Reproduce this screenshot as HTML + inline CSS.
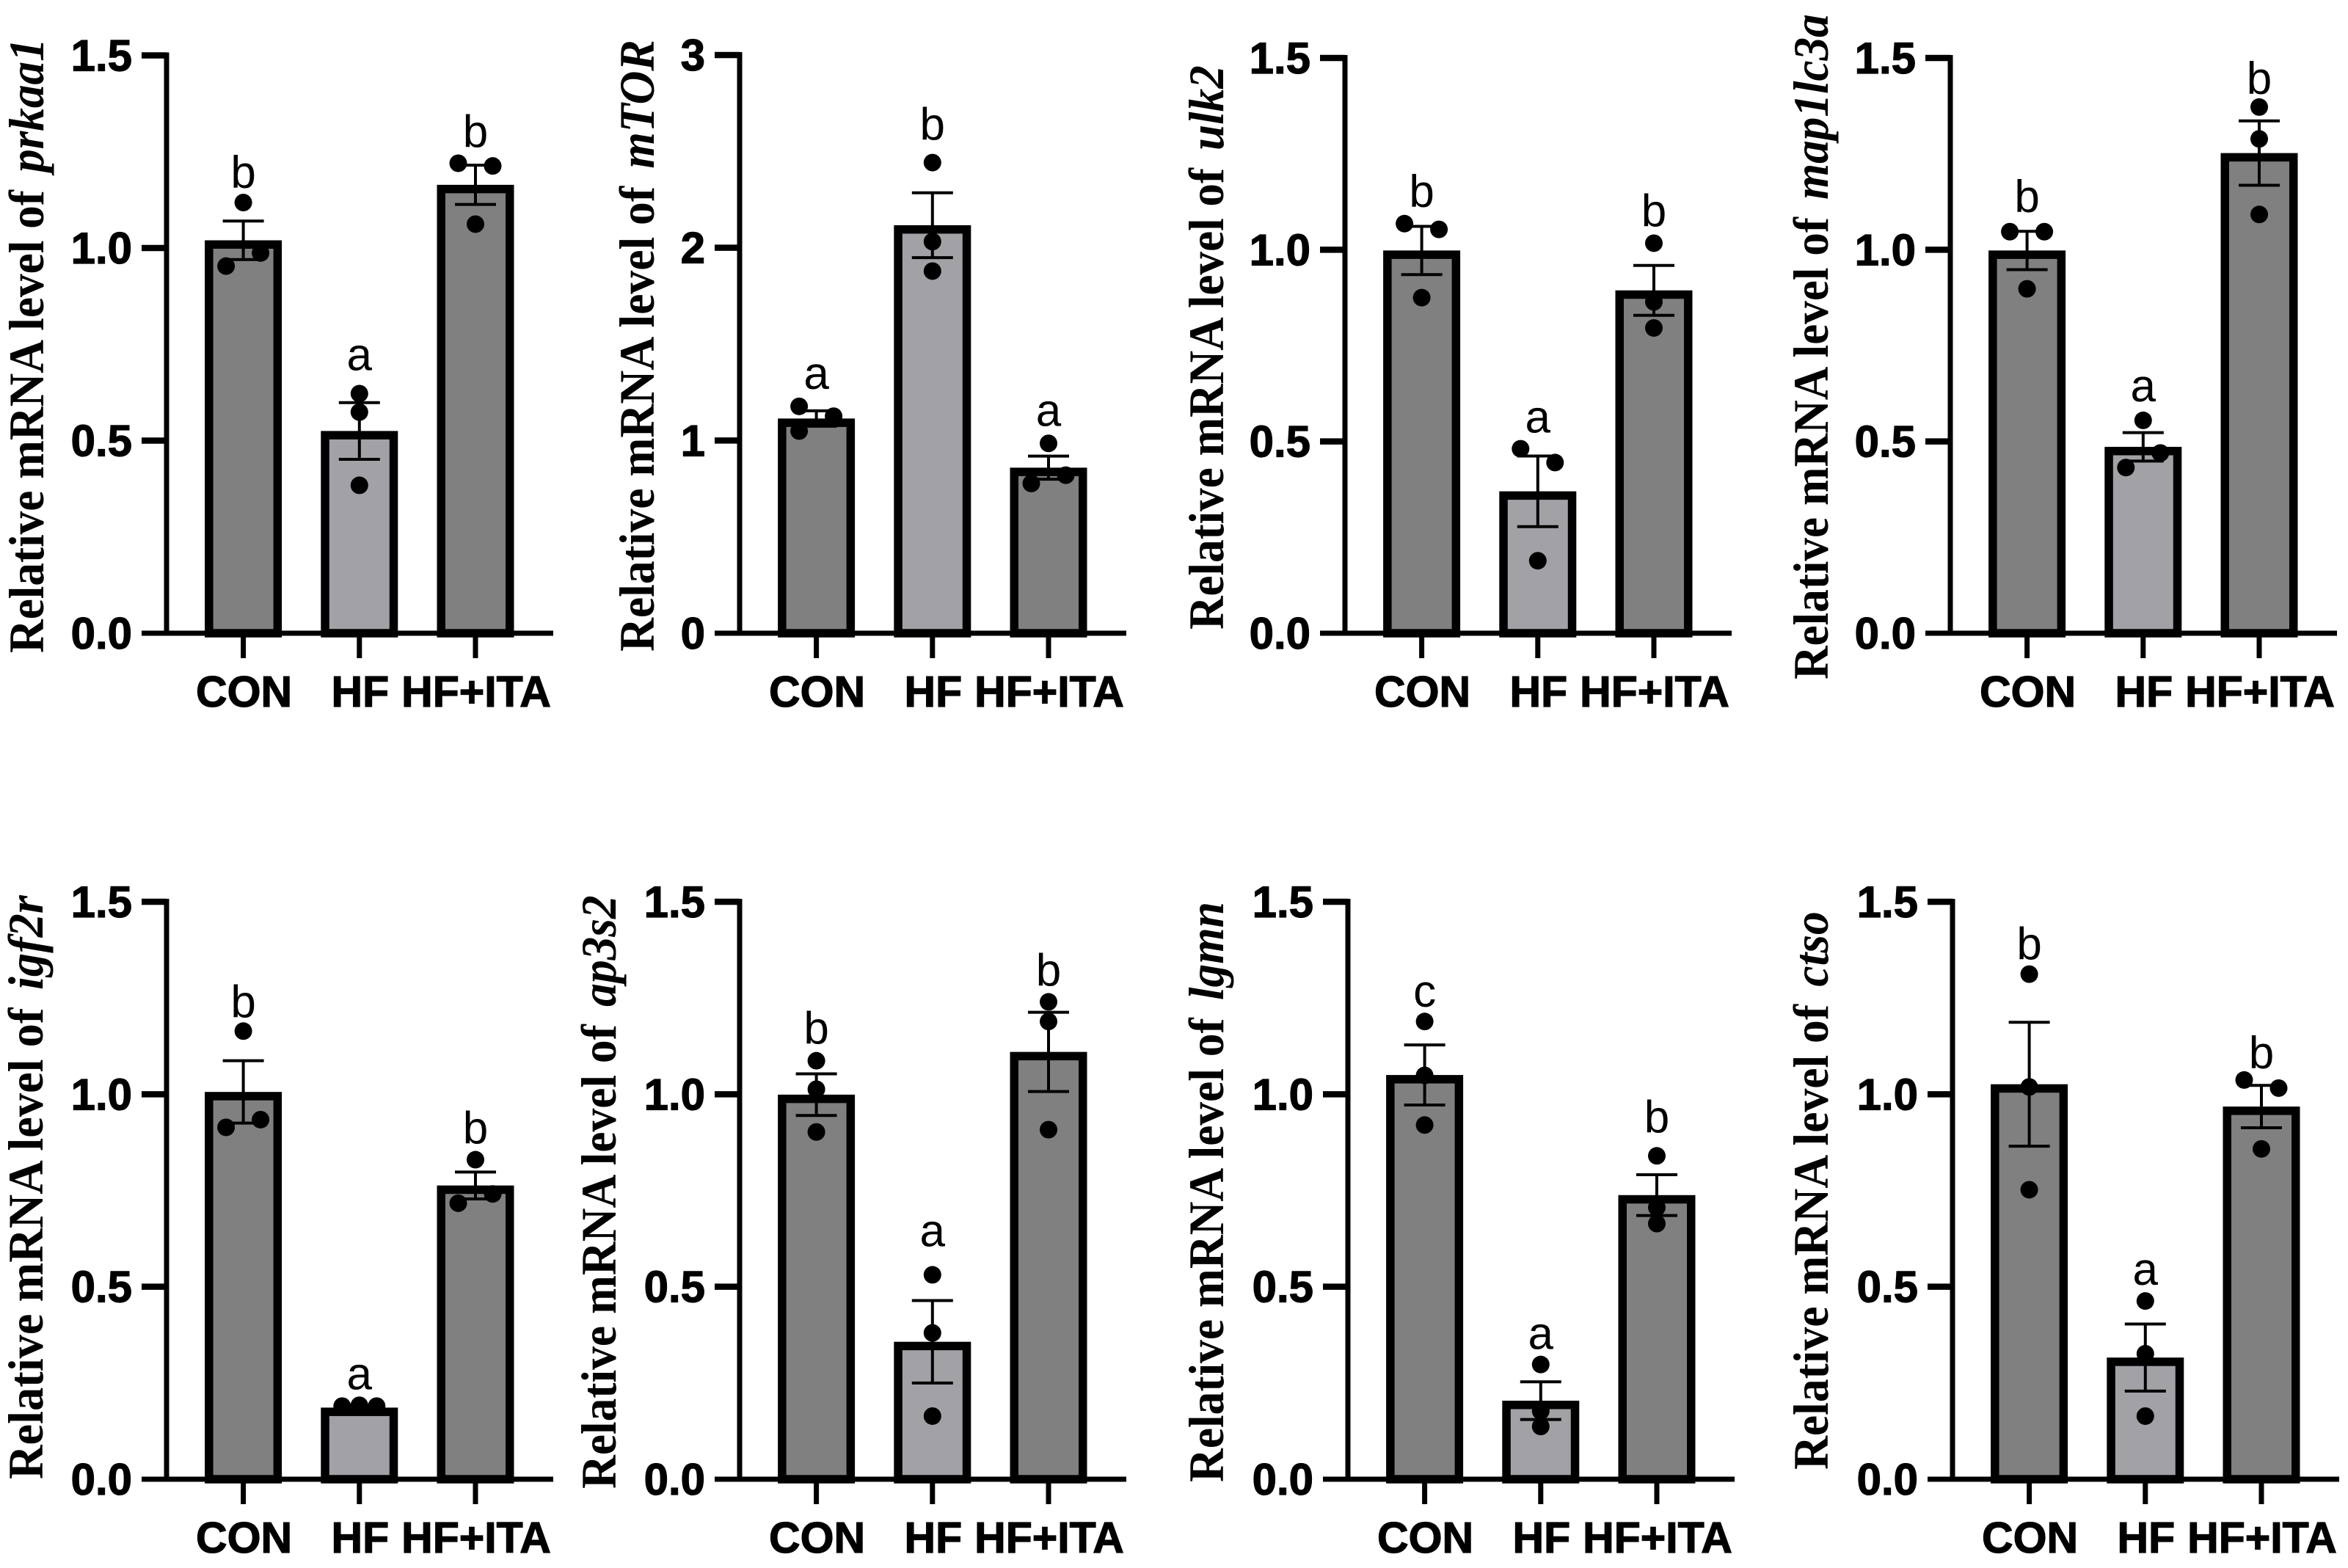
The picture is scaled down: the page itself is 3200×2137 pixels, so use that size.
<!DOCTYPE html>
<html lang="en">
<head>
<meta charset="utf-8">
<title>Relative mRNA levels</title>
<style>
html,body{margin:0;padding:0;background:#fff;}
svg{display:block;}
</style>
</head>
<body>
<svg id="figure" xmlns="http://www.w3.org/2000/svg" width="3200" height="2137" viewBox="0 0 3200 2137">
<rect x="0" y="0" width="3200" height="2137" fill="#ffffff"/>
</svg>
<script>
// ---- data ----
const categories = ['CON', 'HF', 'HF+ITA'];
const geneNames = ['prkaa1', 'mTOR', 'ulk2', 'map1lc3a', 'igf2r', 'ap3s2', 'lgmn', 'ctso'];
const yTickLabelsFraction = ['0.0', '0.5', '1.0', '1.5'];
const yTickLabelsWhole = ['0', '1', '2', '3'];

const meanValues = [
  [1.02, 0.525, 1.164],
  [1.114, 2.117, 0.859],
  [0.998, 0.370, 0.894],
  [0.998, 0.486, 1.252],
  [1.006, 0.186, 0.763],
  [0.999, 0.357, 1.110],
  [1.050, 0.204, 0.738],
  [1.026, 0.316, 0.968]
];
const semValues = [
  [0.050, 0.0735, 0.051],
  [0.040, 0.168, 0.060],
  [0.063, 0.092, 0.065],
  [0.050, 0.037, 0.084],
  [0.081, 0.005, 0.035],
  [0.054, 0.107, 0.103],
  [0.078, 0.049, 0.053],
  [0.161, 0.087, 0.055]
];
const pointValues = [
  [[1.118, 0.987, 0.953], [0.622, 0.574, 0.384], [1.220, 1.213, 1.062]],
  [[1.177, 1.126, 1.049], [2.442, 2.032, 1.879], [0.985, 0.820, 0.777]],
  [[1.068, 1.053, 0.875], [0.481, 0.445, 0.189], [1.017, 0.864, 0.796]],
  [[1.047, 1.047, 0.898], [0.555, 0.470, 0.432], [1.372, 1.289, 1.092]],
  [[1.164, 0.934, 0.914], [0.190, 0.192, 0.190], [0.830, 0.741, 0.717]],
  [[1.087, 1.013, 0.902], [0.531, 0.380, 0.164], [1.240, 1.189, 0.908]],
  [[1.189, 1.049, 0.920], [0.298, 0.177, 0.137], [0.840, 0.706, 0.664]],
  [[1.312, 1.019, 0.752], [0.463, 0.326, 0.164], [1.037, 1.016, 0.858]]
];
// swarm side of each point: -1 left, 0 centre, 1 right
const pointSides = [
  [[0, 1, -1], [0, 0, 0], [-1, 1, 0]],
  [[-1, 1, -1], [0, 0, 0], [0, 1, -1]],
  [[-1, 1, 0], [-1, 1, 0], [0, 0, 0]],
  [[-1, 1, 0], [0, 1, -1], [0, 0, 0]],
  [[0, 1, -1], [-1, 0, 1], [0, 1, -1]],
  [[0, 0, 0], [0, 0, 0], [0, 0, 0]],
  [[0, 0, 0], [0, 0, 0], [0, 0, 0]],
  [[0, 0, 0], [0, 0, 0], [-1, 1, 0]]
];
const significanceLetters = [
  ['b', 'a', 'b'],
  ['a', 'b', 'a'],
  ['b', 'a', 'b'],
  ['b', 'a', 'b'],
  ['b', 'a', 'b'],
  ['b', 'a', 'b'],
  ['c', 'a', 'b'],
  ['b', 'a', 'b']
];

// ---- layout ----
const panelFrames = [
  {axisX: 227,  top: 75.5, base: 863,  titleX: 59,   titleStart: 890,  titleEnd: 52,   tall: false, lift: [20, 32, 22]},
  {axisX: 1008, top: 75,   base: 863,  titleX: 891,  titleStart: 888,  titleEnd: 54,   tall: true,  lift: [24, 31, 24]},
  {axisX: 1833, top: 79,   base: 863,  titleX: 1667, titleStart: 858,  titleEnd: 89,   tall: false, lift: [23, 22, 23]},
  {axisX: 2658, top: 79,   base: 863,  titleX: 2491, titleStart: 926,  titleEnd: 19,   tall: false, lift: [26, 26, 18]},
  {axisX: 227,  top: 1229, base: 2016, titleX: 58,   titleStart: 2016, titleEnd: 1220, tall: false, lift: [19, 22, 22]},
  {axisX: 1008, top: 1229, base: 2016, titleX: 839,  titleStart: 2029, titleEnd: 1220, tall: false, lift: [23, 39, 22]},
  {axisX: 1837, top: 1229, base: 2016, titleX: 1667, titleStart: 2020, titleEnd: 1229, tall: false, lift: [20, 21, 32]},
  {axisX: 2661, top: 1229, base: 2016, titleX: 2491, titleStart: 2003, titleEnd: 1242, tall: false, lift: [20, 22, 16]}
];
const barFills = ['#808080', '#a1a1a6', '#808080'];
const firstBarOffset = 104.6;
const barSpacing = 158.2;
const barWidth = 105;
const borderWidth = 11.5;
const titleGap = 26;
const SVGNS = 'http://www.w3.org/2000/svg';
const INK = '#000000';
const figure = document.getElementById('figure');

function make(parent, tag, attrs) {
  const el = document.createElementNS(SVGNS, tag);
  for (const key in attrs) el.setAttribute(key, attrs[key]);
  parent.appendChild(el);
  return el;
}

function drawPanel(p) {
  const frame = panelFrames[p];
  const gene = geneNames[p];
  const tickLabels = frame.tall ? yTickLabelsWhole : yTickLabelsFraction;
  const yMax = Number(tickLabels[tickLabels.length - 1]);
  const yScale = v => frame.base - (v / yMax) * (frame.base - frame.top);
  const xScale = i => frame.axisX + firstBarOffset + i * barSpacing;

  const group = make(figure, 'g', {});
  
  

  // bars
  categories.forEach((cat, i) => {
    const topY = yScale(meanValues[p][i]);
    const bar = make(group, 'rect', {
      x: xScale(i) - barWidth / 2 + borderWidth / 2,
      y: topY + borderWidth / 2,
      width: barWidth - borderWidth,
      height: frame.base - topY - borderWidth / 2,
      fill: barFills[i], stroke: INK, 'stroke-width': borderWidth
    });
    
    
  });

  // error bars
  categories.forEach((cat, i) => {
    const up = yScale(meanValues[p][i] + semValues[p][i]);
    const low = yScale(meanValues[p][i] - semValues[p][i]);
    const cx = xScale(i);
    const err = make(group, 'path', {
      d: 'M' + (cx - 28) + ' ' + up + 'H' + (cx + 28) + 'M' + cx + ' ' + up + 'V' + low + 'M' + (cx - 28) + ' ' + low + 'H' + (cx + 28),
      fill: 'none', stroke: INK, 'stroke-width': 4
    });
    
    
  });

  // points
  categories.forEach((cat, i) => {
    pointValues[p][i].forEach((value, k) => {
      const dot = make(group, 'circle', {
        cx: xScale(i) + pointSides[p][i][k] * 23.5,
        cy: yScale(value),
        r: 12, fill: INK
      });
      
      
    });
  });

  // significance letters
  categories.forEach((cat, i) => {
    const highest = Math.max(...pointValues[p][i], meanValues[p][i] + semValues[p][i]);
    const cx = xScale(i);
    const letterY = yScale(highest) - frame.lift[i];
    const letter = make(group, 'text', {
      x: cx, y: letterY,
      'text-anchor': 'middle', 'font-family': '"Liberation Sans", sans-serif',
      'font-size': 62, fill: INK
    });
    letter.textContent = significanceLetters[p][i];
    
    
  });

  // y axis
  const yAxis = make(group, 'line', {
    x1: frame.axisX, x2: frame.axisX, y1: frame.top - 4, y2: frame.base + 3,
    stroke: INK, 'stroke-width': 7
  });
  
  

  tickLabels.forEach(label => {
    const y = yScale(Number(label));
    const tick = make(group, 'line', {
      x1: frame.axisX - 34, x2: frame.axisX, y1: y, y2: y,
      stroke: INK, 'stroke-width': y === frame.base ? 7 : 8.5
    });
    
    
    const text = make(group, 'text', {
      x: frame.axisX - 47, y: y + 21,
      'text-anchor': 'end', 'font-family': '"Liberation Sans", sans-serif',
      'font-weight': 'bold', 'font-size': 60, fill: INK, stroke: INK, 'stroke-width': 1.2
    });
    text.textContent = label;
    
    
  });

  // x axis
  const xAxis = make(group, 'line', {
    x1: frame.axisX - 34, x2: frame.axisX + 527, y1: frame.base, y2: frame.base,
    stroke: INK, 'stroke-width': 7
  });
  
  

  categories.forEach((cat, i) => {
    const cx = xScale(i);
    const tick = make(group, 'line', {
      x1: cx, x2: cx, y1: frame.base, y2: frame.base + 34,
      stroke: INK, 'stroke-width': 7
    });
    
    
    const text = make(group, 'text', {
      x: cx + 1, y: frame.base + 100,
      'text-anchor': 'middle', 'font-family': '"Liberation Sans", sans-serif',
      'font-weight': 'bold', 'font-size': 59, fill: INK, stroke: INK, 'stroke-width': 1.2
    });
    text.textContent = cat;
    
    
  });

  // y axis title
  const title = make(group, 'text', {
    'font-family': '"Liberation Serif", serif',
    'font-weight': 'bold',
    'font-size': 68, fill: INK
  });
  
  
  title.appendChild(document.createTextNode('Relative mRNA level of'));
  const italic = make(title, 'tspan', {dx: titleGap, 'font-style': 'italic'});
  italic.textContent = gene;
  const natural = title.getComputedTextLength() + titleGap;
  const span = frame.titleStart - frame.titleEnd;
  title.setAttribute('transform',
    'translate(' + frame.titleX + ' ' + frame.titleStart + ') rotate(-90) scale(' + (span / natural) + ' 1)');
}

geneNames.forEach((gene, p) => drawPanel(p));
</script>
</body>
</html>
